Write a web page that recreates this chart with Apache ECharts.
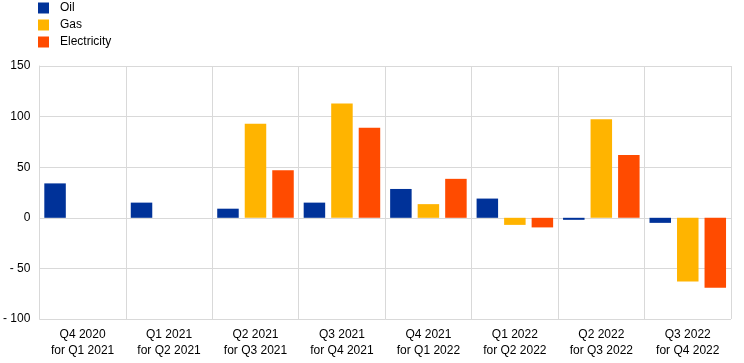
<!DOCTYPE html>
<html><head><meta charset="utf-8">
<script src="https://cdn.jsdelivr.net/npm/echarts@6/dist/echarts.min.js"></script>
<style>html,body{margin:0;padding:0;background:#fff}#c{width:744px;height:363px}</style>
</head><body><div id="c"></div>
<script>
const categories = ["Q4 2020\nfor Q1 2021","Q1 2021\nfor Q2 2021","Q2 2021\nfor Q3 2021","Q3 2021\nfor Q4 2021","Q4 2021\nfor Q1 2022","Q1 2022\nfor Q2 2022","Q2 2022\nfor Q3 2022","Q3 2022\nfor Q4 2022"];
const oil = [34, 15, 9, 15, 28.5, 19, -2, -5];
const gas = [null, null, 93, 113, 13.5, -7, 97.5, -63];
const electricity = [null, null, 47, 89, 38.5, -9.5, 62, -69];
const yTicks = {min: -100, max: 150, interval: 50};

const font = "Liberation Sans, Arial, sans-serif";
const chart = echarts.init(document.getElementById('c'), null, {renderer: 'canvas'});
chart.setOption({
  animation: false,
  textStyle: {fontFamily: font},
  legend: {
    orient: 'vertical', left: 38, top: 2, padding: 0, itemWidth: 11, itemHeight: 11, itemGap: 5,
    icon: 'rect',
    textStyle: {fontSize: 12, color: '#000', fontFamily: font, padding: [0,0,0,6]},
    data: ['Oil','Gas','Electricity']
  },
  grid: {left: 39, right: 13, top: 66, bottom: 44, containLabel: false},
  xAxis: {
    type: 'category', data: categories,
    axisLine: {show: true, lineStyle: {color: '#d9d9d9'}},
    axisTick: {show: false},
    splitLine: {show: true, lineStyle: {color: '#d9d9d9', width: 1}},
    axisLabel: {color: '#000', fontSize: 12, fontFamily: font, lineHeight: 16, margin: 8, interval: 0}
  },
  yAxis: {
    type: 'value', min: yTicks.min, max: yTicks.max, interval: yTicks.interval,
    axisLine: {show: true, lineStyle: {color: '#d9d9d9'}},
    axisTick: {show: false},
    splitLine: {show: true, lineStyle: {color: '#d9d9d9', width: 1}},
    axisLabel: {color: '#000', fontSize: 12, fontFamily: font, margin: 9,
      formatter: v => v < 0 ? '- ' + Math.abs(v) : String(v)}
  },
  series: [
    {name: 'Oil', type: 'bar', data: oil, barWidth: 21.5, barGap: '28%', itemStyle: {color: '#003299'}},
    {name: 'Gas', type: 'bar', data: gas, barWidth: 21.5, barGap: '28%', itemStyle: {color: '#ffb400'}},
    {name: 'Electricity', type: 'bar', data: electricity, barWidth: 21.5, barGap: '28%', itemStyle: {color: '#ff4b00'}}
  ]
});
</script></body></html>
